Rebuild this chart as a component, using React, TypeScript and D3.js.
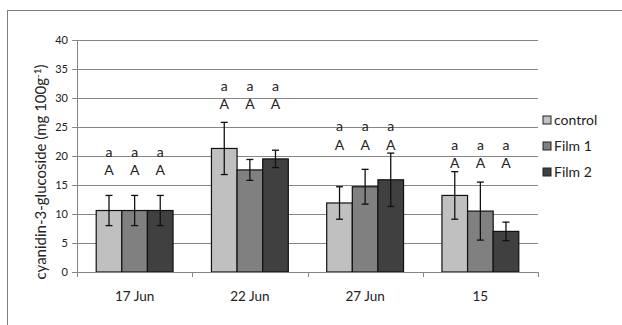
import * as d3 from 'd3';
import React from "react";

// chart values
const categories = ['17 Jun', '22 Jun', '27 Jun', '15'];
const seriesNames = ['control', 'Film 1', 'Film 2'];
const seriesColors = ['#c0c0c0', '#808080', '#404040'];
const controlValues = [10.6, 21.3, 11.9, 13.2];
const film1Values = [10.6, 17.6, 14.7, 10.5];
const film2Values = [10.6, 19.5, 15.9, 7.0];
const controlErr = [2.6, 4.5, 2.8, 4.1];
const film1Err = [2.6, 1.8, 3.0, 5.0];
const film2Err = [2.6, 1.5, 4.6, 1.6];
// letter labels and where they sit (in axis units)
const lowerLetters = ['a', 'a', 'a', 'a'];
const upperLetters = ['A', 'A', 'A', 'A'];
const lowerLetterY = [20.6, 32.1, 25.1, 21.9];
const upperLetterY = [17.5, 29.0, 21.9, 18.8];
const yTicks = [0, 5, 10, 15, 20, 25, 30, 35, 40];

const W = 622, H = 325;
const margin = { left: 77, top: 40, right: 84, bottom: 53 };
const FONT = 'Lato, "Liberation Sans", sans-serif';

export default function App() {
  const width = W - margin.left - margin.right;
  const height = H - margin.top - margin.bottom;
  const allValues = [controlValues, film1Values, film2Values];
  const allErr = [controlErr, film1Err, film2Err];

  const x0 = d3.scaleBand().domain(categories).range([0, width]).paddingInner(0).paddingOuter(0);
  const bw = x0.bandwidth();
  const barW = bw / 4.5; // 3 bars, gap 150% of a bar
  const x1 = d3.scaleBand().domain(seriesNames).range([(bw - 3 * barW) / 2, (bw + 3 * barW) / 2]).padding(0);
  const y = d3.scaleLinear().domain([0, 40]).range([height, 0]);

  return (
    <svg width={W} height={H} style={{ position: 'absolute', left: 0, top: 0 }}>
      <rect x={7.5} y={10.5} width={W} height={H} fill="#fff" stroke="#7f7f7f" strokeWidth={1} />
      <g transform={`translate(${margin.left},${margin.top})`} fontFamily={FONT}>
        {yTicks.map(t => (
          <g key={t}>
            {t > 0 && <line x1={0} x2={width} y1={Math.round(y(t)) + 0.5} y2={Math.round(y(t)) + 0.5} stroke="#868686" />}
            <line x1={-5} x2={0} y1={Math.round(y(t)) + 0.5} y2={Math.round(y(t)) + 0.5} stroke="#868686" />
            <text x={-9} y={y(t)} dy="0.35em" textAnchor="end" fontSize={11} fill="#222">{t}</text>
          </g>
        ))}
        <line x1={0.5} x2={0.5} y1={0} y2={height} stroke="#868686" />
        {categories.map((c, i) => (
          <g key={c} transform={`translate(${x0(c)},0)`}>
            {seriesNames.map((s, j) => {
              const v = allValues[j][i];
              const e = allErr[j][i];
              const bx = x1(s)!;
              const cx = bx + x1.bandwidth() / 2;
              return (
                <g key={s}>
                  <rect x={bx} y={y(v)} width={x1.bandwidth()} height={height - y(v)} fill={seriesColors[j]} stroke="#111" strokeWidth={1.2} />
                  <line x1={cx} x2={cx} y1={y(v + e)} y2={y(v - e)} stroke="#111" strokeWidth={1.3} />
                  <line x1={cx - 3.5} x2={cx + 3.5} y1={y(v + e)} y2={y(v + e)} stroke="#111" strokeWidth={1.3} />
                  <line x1={cx - 3.5} x2={cx + 3.5} y1={y(v - e)} y2={y(v - e)} stroke="#111" strokeWidth={1.3} />
                  <text x={cx} y={y(lowerLetterY[i])} dy="0.35em" textAnchor="middle" fontSize={14} fill="#222">{lowerLetters[i]}</text>
                  <text x={cx} y={y(upperLetterY[i])} dy="0.35em" textAnchor="middle" fontSize={14} fill="#222">{upperLetters[i]}</text>
                </g>
              );
            })}
            <text x={bw / 2} y={height + 24} dy="0.35em" textAnchor="middle" fontSize={13.5} fill="#222">{c}</text>
          </g>
        ))}
        <line x1={0} x2={width} y1={height + 0.5} y2={height + 0.5} stroke="#868686" />
        {[...categories.map(c => x0(c)!), width].map((tx, i) => (
          <line key={i} x1={Math.round(tx) + 0.5} x2={Math.round(tx) + 0.5} y1={height} y2={height + 5} stroke="#868686" />
        ))}
        <text transform={`translate(-36,${height / 2 + 16}) rotate(-90)`} textAnchor="middle" dy="0.35em" fontSize={15} fill="#222">
          cyanidin-3-glucoside (mg 100g<tspan dy="-5" fontSize={10}>-1</tspan><tspan dy="5">)</tspan>
        </text>
        {seriesNames.map((s, j) => (
          <g key={s} transform={`translate(${width + 5},${80 + j * 26})`}>
            <rect x={0} y={-4} width={8} height={8} fill={seriesColors[j]} stroke="#222" strokeWidth={1} />
            <text x={11} y={0} dy="0.35em" fontSize={14} fill="#222">{s}</text>
          </g>
        ))}
      </g>
    </svg>
  );
}
